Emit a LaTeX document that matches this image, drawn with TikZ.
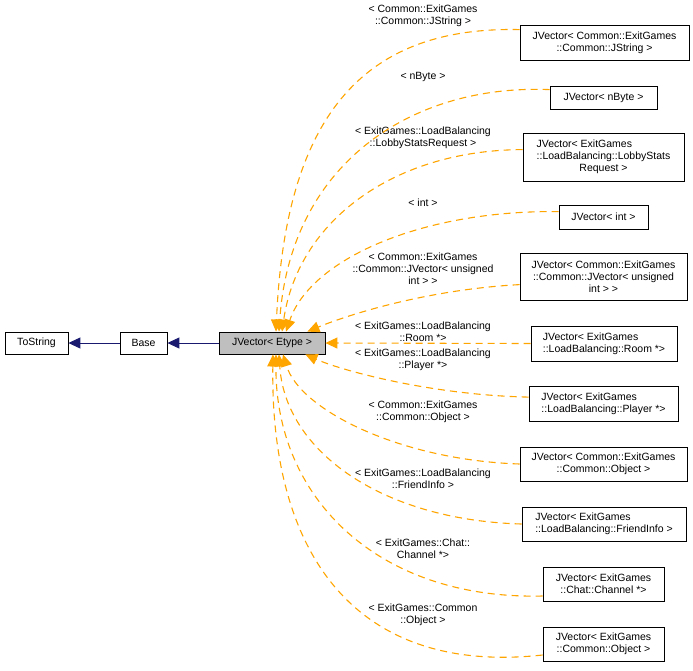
\documentclass[tikz,border=0pt]{standalone}
\usepackage{fontspec}
\setmainfont{Liberation Sans}
\usepackage{xcolor}
\definecolor{colorInherit}{HTML}{191970}
\definecolor{colorTemplate}{HTML}{FFA500}
\definecolor{colorFocus}{HTML}{BFBFBF}
\usetikzlibrary{arrows.meta, positioning}
\tikzset{
  cls/.style={draw=black, fill=white, line width=0.8pt, inner sep=0pt, font=\fontsize{10.5}{12}\selectfont},
  tmplabel/.style={inner sep=0pt, align=center, font=\fontsize{10.5}{12}\selectfont},
  inherit/.style={draw=colorInherit, line width=1pt, -{Triangle[length=12pt,width=11pt]}},
  template/.style={draw=colorTemplate, line width=1.1pt, dash pattern=on 7pt off 5pt, -{Triangle[length=12pt,width=11pt]}}
}

\begin{document}
\begin{tikzpicture}[x=1pt, y=-1pt]
\useasboundingbox (0,0) rectangle (693,670);
% classes
\node[cls, minimum width=63pt, minimum height=22pt] (tostring) at (36.5,343) {ToString};
\node[cls, minimum width=47pt, minimum height=22pt] (base) at (143.5,343) {Base};
\node[cls, fill=colorFocus, minimum width=106pt, minimum height=22pt] (etype) at (272,343) {JVector< Etype >};
\node[cls, align=center, minimum width=169pt, minimum height=35pt] (jstring) at (604.5,42.5) {JVector< Common::ExitGames\\::Common::JString >};
\node[cls, minimum width=107pt, minimum height=23pt] (nbyte) at (603.5,97.5) {JVector< nByte >};
\node[cls, align=center, minimum width=161pt, minimum height=48pt] (lobby) at (603.5,157) {\begin{tabular}{@{}l@{}}JVector< ExitGames\\::LoadBalancing::LobbyStats\\\multicolumn{1}{@{}c@{}}{Request >}\end{tabular}};
\node[cls, minimum width=89pt, minimum height=24pt] (int) at (603.5,217) {JVector< int >};
\node[cls, align=center, minimum width=167pt, minimum height=47pt] (unsigned) at (603.5,276.5) {JVector< Common::ExitGames\\::Common::JVector< unsigned\\int > >};
\node[cls, align=left, minimum width=146pt, minimum height=35pt] (room) at (604,343.5) {JVector< ExitGames\\::LoadBalancing::Room *>};
\node[cls, align=left, minimum width=149pt, minimum height=35pt] (player) at (603.5,404) {JVector< ExitGames\\::LoadBalancing::Player *>};
\node[cls, align=center, minimum width=167pt, minimum height=34pt] (cobject) at (603.5,464) {JVector< Common::ExitGames\\::Common::Object >};
\node[cls, align=left, minimum width=164pt, minimum height=34pt] (friend) at (604,524) {JVector< ExitGames\\::LoadBalancing::FriendInfo >};
\node[cls, align=center, minimum width=121pt, minimum height=34pt] (channel) at (603.5,584) {JVector< ExitGames\\::Chat::Channel *>};
\node[cls, align=center, minimum width=121pt, minimum height=34pt] (eobject) at (603.5,644) {JVector< ExitGames\\::Common::Object >};
% template arguments
\node[tmplabel] (ljstring) at (423,16) {< Common::ExitGames\\::Common::JString >};
\node[tmplabel] (lnbyte) at (423,77) {< nByte >};
\node[tmplabel] (llobby) at (423,137.5) {< ExitGames::LoadBalancing\\::LobbyStatsRequest >};
\node[tmplabel] (lint) at (423,203) {< int >};
\node[tmplabel] (lunsigned) at (423,269) {< Common::ExitGames\\::Common::JVector< unsigned\\int > >};
\node[tmplabel] (lroom) at (423,331.5) {< ExitGames::LoadBalancing\\::Room *>};
\node[tmplabel] (lplayer) at (423,360) {< ExitGames::LoadBalancing\\::Player *>};
\node[tmplabel] (lcobject) at (423,412) {< Common::ExitGames\\::Common::Object >};
\node[tmplabel] (lfriend) at (423,479) {< ExitGames::LoadBalancing\\::FriendInfo >};
\node[tmplabel] (lchannel) at (423,548.5) {< ExitGames::Chat::\\Channel *>};
\node[tmplabel] (leobject) at (423,615) {< ExitGames::Common\\::Object >};
% inheritance
\draw[inherit] (base) -- (tostring);
\draw[inherit] (etype) -- (base);
% instantiations
\draw[template] ([yshift=-5pt]jstring.north west) .. controls (360,26) and (285,120) .. ([xshift=4pt]etype.north);
\draw[template] ([yshift=-4pt]nbyte.north west) .. controls (410,84) and (290,165) .. ([xshift=7pt]etype.north);
\draw[template] ([yshift=-17pt]lobby.north west) .. controls (395,150) and (298,220) .. ([xshift=10pt]etype.north);
\draw[template] ([yshift=-7pt]int.north west) .. controls (420,210) and (310,260) .. ([xshift=14pt]etype.north);
\draw[template] ([yshift=-32pt]unsigned.north west) .. controls (420,290) and (340,318) .. ([xshift=-18pt]etype.north east);
\draw[template] (room.west) -- (etype.east);
\draw[template] ([yshift=-11pt]player.north west) .. controls (430,395) and (340,370) .. ([xshift=-20pt]etype.south east);
\draw[template] (cobject.west) .. controls (400,460) and (300,410) .. ([xshift=11pt]etype.south);
\draw[template] (friend.west) .. controls (380,520) and (285,450) .. ([xshift=7pt]etype.south);
\draw[template] ([yshift=-12pt]channel.west) .. controls (380,600) and (275,500) .. ([xshift=4pt]etype.south);
\draw[template] ([yshift=-11pt]eobject.west) .. controls (360,675) and (270,560) .. ([xshift=1pt]etype.south);
\end{tikzpicture}
\end{document}
